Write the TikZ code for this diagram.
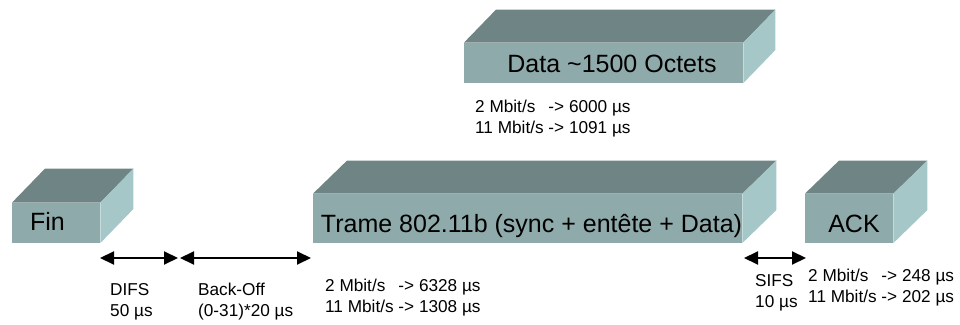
\documentclass[tikz,border=0pt]{standalone}
\usepackage{fontspec}
\setmainfont{Liberation Sans}
\usetikzlibrary{arrows.meta}
\definecolor{frontc}{RGB}{143,170,171}
\definecolor{topc}{RGB}{111,132,133}
\definecolor{sidec}{RGB}{166,199,200}
\newcommand{\mycube}[3]{%
  \fill[topc] (#1.north west) -- ++(#2,#3) -- ([shift={(#2,#3)}]#1.north east) -- (#1.north east) -- cycle;
  \fill[sidec] (#1.north east) -- ++(#2,#3) -- ([shift={(#2,#3)}]#1.south east) -- (#1.south east) -- cycle;}
\newcommand{\ratetab}[4]{\begin{tabular}[t]{@{}l@{\ }l@{}}#1 & #2\\#3 & #4\end{tabular}}
\newcommand{\twolines}[2]{\begin{tabular}[t]{@{}l@{}}#1\\#2\end{tabular}}
\begin{document}
\begin{tikzpicture}[x=1pt,y=1pt,
  front/.style={fill=frontc, inner sep=0pt, anchor=south west},
  boxlabel/.style={inner sep=0pt, anchor=base, font=\fontsize{25}{30}\selectfont},
  small/.style={inner sep=0pt, anchor=base west, font=\fontsize{17.2}{21}\selectfont\renewcommand{\arraystretch}{1}},
  span/.style={line width=2pt, {Triangle[length=14pt,width=13pt]}-{Triangle[length=14pt,width=13pt]}}]
\useasboundingbox (0,0) rectangle (960,324);
% boxes
\node[front, minimum width=88pt, minimum height=40pt] (fin) at (12,81) {};
\mycube{fin}{33}{34}
\node[front, minimum width=429pt, minimum height=49pt] (trame) at (313,81) {};
\mycube{trame}{34}{33}
\node[front, minimum width=88pt, minimum height=49pt] (ack) at (805,81) {};
\mycube{ack}{34}{33}
\node[front, minimum width=279pt, minimum height=40pt] (data) at (464,241) {};
\mycube{data}{32}{33}
% box labels
\node[boxlabel] (finl) at (47.5,93) {Fin};
\node[boxlabel] (tramel) at (531.5,92) {Trame 802.11b (sync + entête + Data)};
\node[boxlabel] (ackl) at (854,92) {ACK};
\node[boxlabel] (datal) at (612,251) {Data \char`\~1500 Octets};
% spans
\coordinate (difsA) at (100,66);
\coordinate (difsB) at (178,66);
\coordinate (boA) at (180,66);
\coordinate (boB) at (311,66);
\coordinate (sifsA) at (744,66);
\coordinate (sifsB) at (806,66);
\draw[span] (difsA) -- (difsB);
\draw[span] (boA) -- (boB);
\draw[span] (sifsA) -- (sifsB);
% texts
\node[small] (datar) at (475,211) {\ratetab{2 Mbit/s}{-> 6000 µs}{11 Mbit/s}{-> 1091 µs}};
\node[small] (tramer) at (325,33) {\ratetab{2 Mbit/s}{-> 6328 µs}{11 Mbit/s}{-> 1308 µs}};
\node[small] (ackr) at (808,43) {\ratetab{2 Mbit/s}{-> 248 µs}{11 Mbit/s}{-> 202 µs}};
\node[small] (difs) at (110,29) {\twolines{DIFS}{50 µs}};
\node[small] (bo) at (198,29) {\twolines{Back-Off}{(0-31)*20 µs}};
\node[small] (sifs) at (755,38) {\twolines{SIFS}{10 µs}};
\end{tikzpicture}
\end{document}
